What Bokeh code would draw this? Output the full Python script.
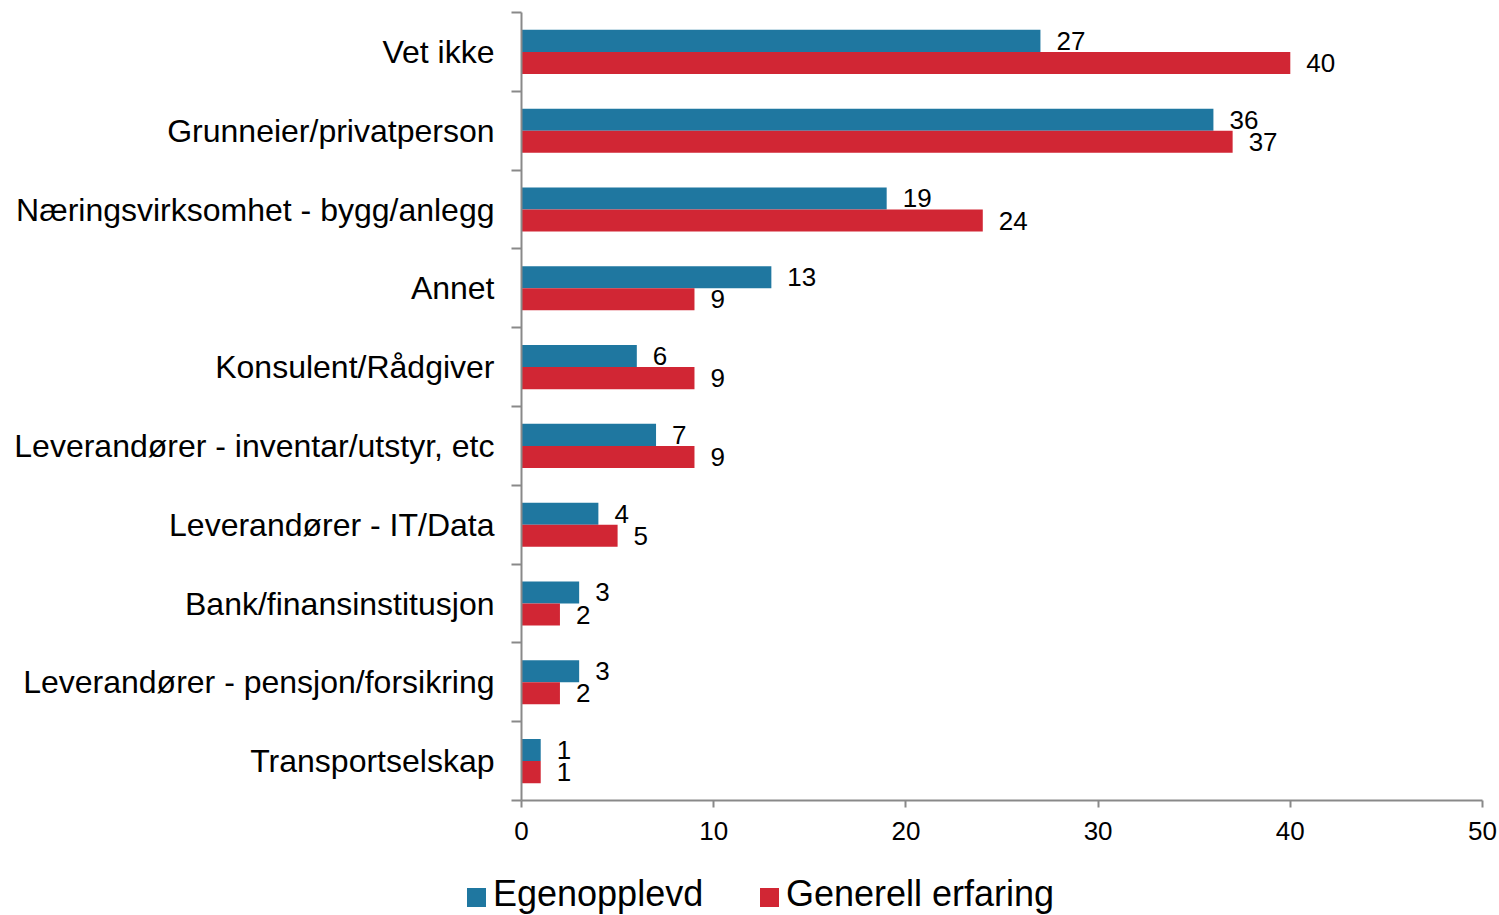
import numpy as np
from bokeh.plotting import figure
from bokeh.layouts import column
from bokeh.models import ColumnDataSource, Range1d, FixedTicker, Div
from bokeh.core.properties import value
from bokeh.embed import file_html
from bokeh.resources import INLINE

categories = ["Vet ikke", "Grunneier/privatperson", "Næringsvirksomhet - bygg/anlegg",
              "Annet", "Konsulent/Rådgiver", "Leverandører - inventar/utstyr, etc",
              "Leverandører - IT/Data", "Bank/finansinstitusjon",
              "Leverandører - pensjon/forsikring", "Transportselskap"]
egenopplevd = [27, 36, 19, 13, 6, 7, 4, 3, 3, 1]
generell = [40, 37, 24, 9, 9, 9, 5, 2, 2, 1]
x_ticks = [0, 10, 20, 30, 40, 50]
series_names = ["Egenopplevd", "Generell erfaring"]

BLUE = "#1F77A0"
RED = "#D12634"
AXIS = "#898989"
FONT = "Liberation Sans"

n = len(categories)
idx = np.arange(n)
centers = idx + 0.5
bar_h = 0.28

src_b = ColumnDataSource(dict(y=centers - bar_h / 2, v=egenopplevd,
                              t=[str(v) for v in egenopplevd]))
src_r = ColumnDataSource(dict(y=centers + bar_h / 2, v=generell,
                              t=[str(v) for v in generell]))

p = figure(frame_width=961, frame_height=788, output_backend="svg", toolbar_location=None,
           x_range=Range1d(0, 50), y_range=Range1d(n, 0),
           min_border_left=521, min_border_right=17, min_border_top=12,
           min_border_bottom=70)
p.outline_line_color = None
p.xgrid.visible = False
p.ygrid.visible = False
p.background_fill_color = "white"
p.border_fill_color = "white"

p.hbar(y="y", left=0, right="v", height=bar_h, source=src_b,
       fill_color=BLUE, line_color=None)
p.hbar(y="y", left=0, right="v", height=bar_h, source=src_r,
       fill_color=RED, line_color=None)

for s in (src_b, src_r):
    p.text(x="v", y="y", text="t", source=s, x_offset=16,
           text_baseline="middle", text_align="left",
           text_font_size="26px", text_font=value(FONT), text_color="black")

# x axis
xa = p.xaxis[0]
xa.ticker = FixedTicker(ticks=x_ticks)
xa.axis_line_color = AXIS
xa.axis_line_width = 2
xa.major_tick_line_color = AXIS
xa.major_tick_line_width = 2
xa.major_tick_in = 0
xa.major_tick_out = 7
xa.minor_tick_line_color = None
xa.major_label_text_font = FONT
xa.major_label_text_font_size = "26px"
xa.major_label_text_color = "black"
xa.major_label_standoff = 14

# y axis
ya = p.yaxis[0]
ya.ticker = FixedTicker(ticks=list(centers), minor_ticks=list(range(n + 1)))
ya.major_label_overrides = {float(c): name for c, name in zip(centers, categories)}
ya.axis_line_color = AXIS
ya.axis_line_width = 2
ya.major_tick_line_color = None
ya.major_tick_in = 0
ya.major_tick_out = 0
ya.minor_tick_line_color = AXIS
ya.minor_tick_line_width = 2
ya.minor_tick_in = 0
ya.minor_tick_out = 10
ya.major_label_text_font = FONT
ya.major_label_text_font_size = "32px"
ya.major_label_text_color = "black"
ya.major_label_standoff = 17

# legend strip below the chart
def swatch(left, color):
    return (f'<span style="position:absolute;left:{left}px;top:18px;width:19px;'
            f'height:19px;background:{color};"></span>')

def label(left, txt):
    return (f'<span style="position:absolute;left:{left}px;top:6px;line-height:1;'
            f'white-space:nowrap;">{txt}</span>')

legend_html = (
    f'<div style="position:relative;width:1499px;height:45px;overflow:hidden;'
    f'font-family:\'{FONT}\';font-size:36px;color:black;">'
    + swatch(467, BLUE) + label(493, series_names[0])
    + swatch(760, RED) + label(786, series_names[1])
    + '</div>'
)
legend_div = Div(text=legend_html, width=1499, height=45, margin=0)

layout = column(p, legend_div, spacing=0)
open("out.html", "w").write(file_html(layout, INLINE))
